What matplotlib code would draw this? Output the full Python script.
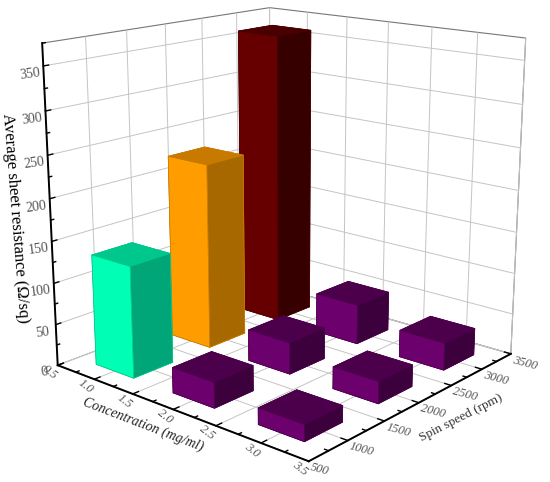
"""3D bar chart of average sheet resistance vs concentration and spin speed."""

import matplotlib
matplotlib.use('Agg')
import matplotlib.pyplot as plt

plt.rcParams['font.family'] = ['Liberation Serif', 'DejaVu Serif']

# Data
conc = [1.0, 1.0, 1.0, 2.0, 2.0, 2.0, 3.0, 3.0, 3.0]
spin = [3000, 2000, 1000, 3000, 2000, 1000, 3000, 2000, 1000]
resistance = [359, 225, 133, 49, 38, 30, 33, 26, 19]
conc_ticks = [0.5, 1.0, 1.5, 2.0, 2.5, 3.0, 3.5]
spin_ticks = [500, 1000, 1500, 2000, 2500, 3000, 3500]
res_ticks = [0, 50, 100, 150, 200, 250, 300, 350]

BAR_W = 0.5
BAR_D = 500
# (left face, top, right face)
GREEN = ('#00ffb4', '#00c88c', '#00a578')
ORANGE = ('#ff9c00', '#c87a00', '#a86800')
RED = ('#660000', '#4a0000', '#360000')
PURPLE = ('#6c006c', '#4c004c', '#3c003c')
bar_colors = [RED, ORANGE, GREEN, PURPLE, PURPLE, PURPLE, PURPLE, PURPLE, PURPLE]

fig = plt.figure(figsize=(5.5, 4.82), dpi=100)
ax = fig.add_axes([5.1 / 550, 29.3 / 482, 1, 1], projection='3d', computed_zorder=False)
ax.set_xlim(0.5, 3.5, view_margin=0)
ax.set_ylim(500, 3500, view_margin=0)
ax.set_zlim(0, 375, view_margin=0)
ax.view_init(15.831, -49.252)
ax.set_proj_type('persp', focal_length=0.534)
ax.set_box_aspect((1.009, 0.993, 1), zoom=1.156)

# Panes and frame
for axis in (ax.xaxis, ax.yaxis, ax.zaxis):
    axis.set_pane_color((1, 1, 1, 1))
    axis.pane.set_edgecolor('#777777')
    axis.pane.set_linewidth(0.8)
    axis.line.set_color('black')
    axis.line.set_linewidth(1.4)
    axis._axinfo['grid']['color'] = '#c4c4c4'
    axis._axinfo['grid']['linewidth'] = 0.7
    axis._axinfo['tick']['inward_factor'] = 0.0
    axis._axinfo['tick']['outward_factor'] = 0.0

# ha shifts the labels sideways, pad alone only moves them along the view direction
ax.set_xticks(conc_ticks)
ax.set_xticklabels([f'{t:.1f}' for t in conc_ticks], style='italic', ha='right')
ax.set_yticks(spin_ticks)
ax.set_yticklabels([str(t) for t in spin_ticks], style='italic', ha='left')
ax.set_zticks(res_ticks)
ax.set_zticklabels([str(t) for t in res_ticks])
ax.zaxis.set_ticks_position('lower')

ax.tick_params(axis='x', labelsize=9, labelcolor='#555555', labelrotation=-38, pad=-9)
ax.tick_params(axis='y', labelsize=9, labelcolor='#555555', labelrotation=-15, pad=-8)
ax.tick_params(axis='z', labelsize=10, labelcolor='#555555', labelrotation=8, pad=-3)

# Bars, back to front
order = sorted(range(len(conc)), key=lambda i: (-spin[i], conc[i]))
for z, i in enumerate(order):
    left, top, right = bar_colors[i]
    # face order: bottom, top, -y, +y, -x, +x
    faces = [left, top, left, left, left, right]
    ax.bar3d(conc[i] - BAR_W / 2, spin[i] - BAR_D / 2, 0, BAR_W, BAR_D, resistance[i],
             color=faces, shade=False, edgecolor=top, linewidth=0.5, zorder=10 + z)

# Short inward ticks along the three axes
tick_c = 'black'
for t in [0.5 + 0.25 * k for k in range(13)]:
    ax.plot([t, t], [500, 500 + (70 if (t * 2) % 1 == 0 else 40)], [0, 0], color=tick_c, lw=1.0, zorder=5)
for t in range(500, 3501, 250):
    ax.plot([3.5, 3.5 - (0.07 if t % 500 == 0 else 0.04)], [t, t], [0, 0], color=tick_c, lw=1.0, zorder=5)
for t in range(0, 376, 25):
    ax.plot([0.5, 0.5], [500, 500 + (60 if t % 50 == 0 else 35)], [t, t], color=tick_c, lw=1.0, zorder=5)

fig.text(15 / 550, 1 - 218 / 482, 'Average sheet resistance (Ω/sq)', rotation=-85.5, fontsize=12,
         ha='center', va='center', color='black')
fig.text(143 / 550, 1 - 425 / 482, 'Concentration (mg/ml)', rotation=-21, fontsize=10, style='italic',
         ha='center', va='center', color='#222222')
fig.text(461 / 550, 1 - 418 / 482, 'Spin speed (rpm)', rotation=27, fontsize=9.5,
         ha='center', va='center', color='#333333')

fig.savefig('out.png', dpi=100)
